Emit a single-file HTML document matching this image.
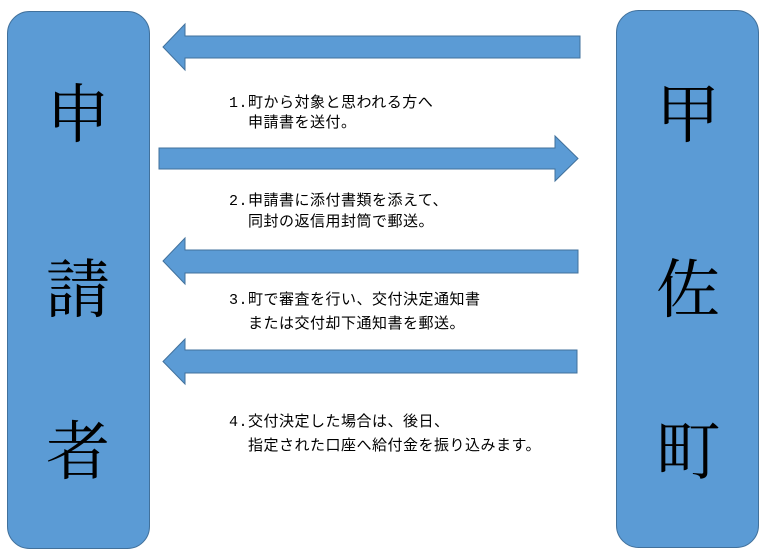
<!DOCTYPE html>
<html><head><meta charset="utf-8"><style>
html,body{margin:0;padding:0;background:#fff;}
body{width:770px;height:558px;overflow:hidden;position:relative;}
svg{position:absolute;left:0;top:0;}
.big{font-family:"Noto Serif CJK JP","Noto Serif CJK SC",serif;font-size:64px;fill:#000;text-anchor:middle;}
.t{font-family:"Liberation Mono","Noto Sans CJK JP",monospace;font-size:15px;letter-spacing:0.5px;fill:#000;}
</style></head><body>
<svg width="770" height="558" viewBox="0 0 770 558">
<g fill="#5b9bd5" stroke="#41719c" stroke-width="1">
<rect x="7.5" y="11.5" width="142" height="537" rx="22" ry="22"/>
<rect x="616.5" y="10.5" width="142" height="537" rx="22" ry="22"/>
<polygon points="580,36 185,36 185,24 163,47 185,70 185,58 580,58"/>
<polygon points="159,148 555,148 555,136 578,158.5 555,181 555,169 159,169"/>
<polygon points="578,250 185,250 185,238 163,261 185,284 185,273 578,273"/>
<polygon points="577,350 185,350 185,339 163,361.5 185,384 185,373 577,373"/>
</g>
<text class="big" x="78" y="137">申</text>
<text class="big" x="78" y="312">請</text>
<text class="big" x="78" y="474">者</text>
<text class="big" x="688" y="137">甲</text>
<text class="big" x="688" y="312">佐</text>
<text class="big" x="688" y="474">町</text>
<text class="t" x="229" y="107">1.町から対象と思われる方へ</text>
<text class="t" x="248" y="127">申請書を送付。</text>
<text class="t" x="229" y="205">2.申請書に添付書類を添えて、</text>
<text class="t" x="248" y="226">同封の返信用封筒で郵送。</text>
<text class="t" x="229" y="304">3.町で審査を行い、交付決定通知書</text>
<text class="t" x="248" y="328">または交付却下通知書を郵送。</text>
<text class="t" x="229" y="426">4.交付決定した場合は、後日、</text>
<text class="t" x="248" y="450">指定された口座へ給付金を振り込みます。</text>
</svg>
</body></html>
